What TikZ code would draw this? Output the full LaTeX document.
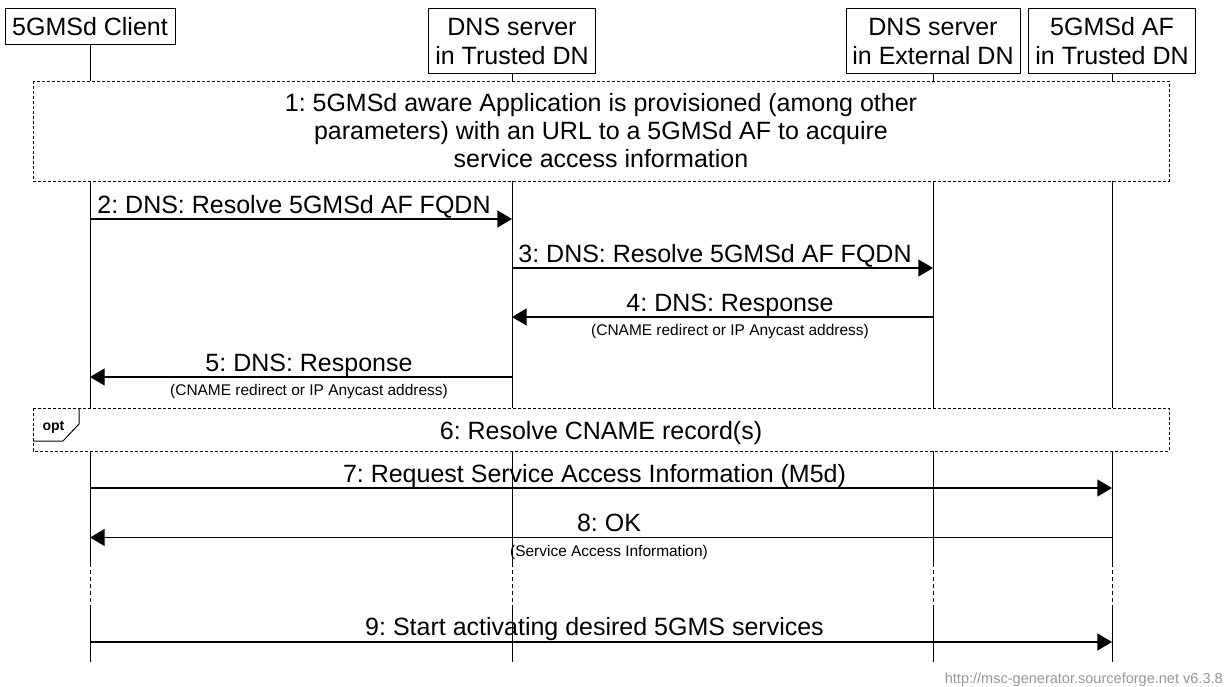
\documentclass[tikz,border=0pt]{standalone}
\usepackage{fontspec}
\setmainfont{Liberation Sans}
\usetikzlibrary{arrows.meta}
\definecolor{footgray}{RGB}{150,150,150}
\frenchspacing
\begin{document}
\begin{tikzpicture}[x=0.75pt,y=-0.75pt,
  ent/.style={draw, line width=0.75pt, fill=white, inner sep=0pt, align=center,
    font=\fontsize{18.75}{21.75}\selectfont, anchor=north},
  life/.style={line width=0.75pt},
  lifegap/.style={line width=0.75pt, dash pattern=on 3pt off 2.25pt},
  msg/.style={line width=1pt, -{Triangle[length=11pt,width=12.75pt]}},
  lbl/.style={font=\fontsize{18.75}{21}\selectfont, anchor=base, inner sep=0pt},
  sublbl/.style={font=\fontsize{11.6}{13}\selectfont, anchor=base, inner sep=0pt},
  dbox/.style={draw, line width=0.75pt, dash pattern=on 2.25pt off 1.5pt, fill=white},
  boxtext/.style={font=\fontsize{18.75}{21}\selectfont, align=center, inner sep=0pt}
]
\useasboundingbox (0,0) rectangle (1226,686);

% entity headings
\node[ent, minimum width=127.5pt, minimum height=27pt] (cl) at (90,8) {5GMSd Client};
\node[ent, minimum width=125.25pt, minimum height=48.75pt] (dt) at (512,8) {DNS server\\in Trusted DN};
\node[ent, minimum width=130.5pt, minimum height=48.75pt] (de) at (933,8) {DNS server\\in External DN};
\node[ent, minimum width=125.25pt, minimum height=48.75pt] (af) at (1112,8) {5GMSd AF\\in Trusted DN};

% lifelines
\foreach \n/\x in {cl/90, dt/512, de/933, af/1112}{
  \coordinate (\n-g1) at (\x,563);
  \coordinate (\n-g2) at (\x,605);
  \coordinate (\n-end) at (\x,662);
  \draw[life] (\n.south) -- (\n-g1);
  \draw[lifegap] (\n-g1) -- (\n-g2);
  \draw[life] (\n-g2) -- (\n-end);
}

% 1: provisioning box
\draw[dbox] (33,81) rectangle (1169,181);
\node[boxtext] (t1) at (601,131) {1: 5GMSd aware Application is provisioned (among other\\parameters) with an URL to a 5GMSd AF to acquire\\service access information};

% message coordinates
\coordinate (m2a) at (90,219);   \coordinate (m2b) at (512,219);
\coordinate (m3a) at (512,268);  \coordinate (m3b) at (933,268);
\coordinate (m4a) at (933,317);  \coordinate (m4b) at (512,317);
\coordinate (m5a) at (512,377);  \coordinate (m5b) at (90,377);
\coordinate (m7a) at (90,488);   \coordinate (m7b) at (1112,488);
\coordinate (m8a) at (1112,537.5); \coordinate (m8b) at (90,537.5);
\coordinate (m9a) at (90,642);   \coordinate (m9b) at (1112,642);

% 2
\draw[msg] (m2a) -- (m2b);
\node[lbl] (l2) at (294,213) {2: DNS: Resolve 5GMSd AF FQDN};
% 3
\draw[msg] (m3a) -- (m3b);
\node[lbl] (l3) at (715,262) {3: DNS: Resolve 5GMSd AF FQDN};
% 4
\draw[msg] (m4a) -- (m4b);
\node[lbl] (l4) at (730,311) {4: DNS: Response};
\node[sublbl] (s4) at (730,335) {(CNAME redirect or IP Anycast address)};
% 5
\draw[msg] (m5a) -- (m5b);
\node[lbl] (l5) at (309,371) {5: DNS: Response};
\node[sublbl] (s5) at (309,395) {(CNAME redirect or IP Anycast address)};

% 6: opt box
\draw[dbox] (33,408) rectangle (1169,451);
\coordinate (o1) at (79,408); \coordinate (o2) at (79,424);
\coordinate (o3) at (63,441); \coordinate (o4) at (33,441);
\draw[line width=0.75pt] (o1) -- (o2) -- (o3) -- (o4);
\node[font=\fontsize{10.5}{12}\selectfont\bfseries, anchor=base, inner sep=0pt] (opt) at (53.5,430) {opt};
\node[lbl] (l6) at (601,439) {6: Resolve CNAME record(s)};

% 7
\draw[msg] (m7a) -- (m7b);
\node[lbl] (l7) at (594.5,482) {7: Request Service Access Information (M5d)};
% 8
\draw[msg] (m8a) -- (m8b);
\node[lbl] (l8) at (609,531) {8: OK};
\node[sublbl] (s8) at (609,556) {(Service Access Information)};
% 9
\draw[msg] (m9a) -- (m9b);
\node[lbl] (l9) at (594.5,635) {9: Start activating desired 5GMS services};

% footer
\node[font=\fontsize{10.9}{12}\selectfont, text=footgray, anchor=base east, inner sep=0pt] (foot) at (1223,683) {http://msc-generator.sourceforge.net v6.3.8};
\end{tikzpicture}
\end{document}
